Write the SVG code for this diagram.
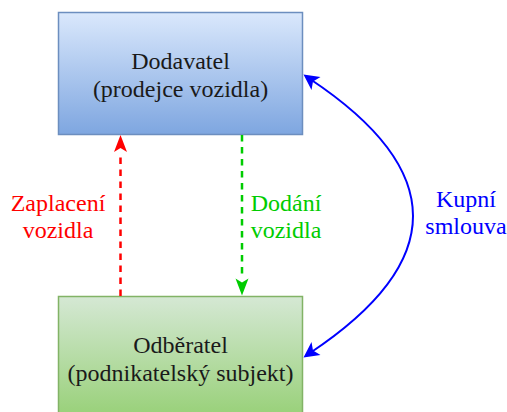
<svg xmlns="http://www.w3.org/2000/svg" width="507" height="412" viewBox="0 0 507 412">
<style>
text{font-family:'Liberation Serif','Times New Roman',serif;font-size:24px;text-anchor:middle}
.node{fill:#1a1a1a}
</style>
<defs>
<linearGradient id="gb" x1="0" y1="0" x2="0" y2="1"><stop offset="0" stop-color="#dae8fc"/><stop offset="1" stop-color="#7ea6e0"/></linearGradient>
<linearGradient id="gg" x1="0" y1="0" x2="0" y2="1"><stop offset="0" stop-color="#d5e8d4"/><stop offset="1" stop-color="#97d077"/></linearGradient>
</defs>
<g id="dodavatel">
<rect x="58.5" y="12.5" width="244" height="122" fill="url(#gb)" stroke="#6c8ebf" stroke-width="1.5"/>
<text class="node" x="180.5" y="69">Dodavatel</text>
<text class="node" x="180.5" y="97">(prodejce vozidla)</text>
</g>
<g id="odberatel">
<rect x="58.5" y="296.5" width="244" height="122" fill="url(#gg)" stroke="#82b366" stroke-width="1.5"/>
<text class="node" x="180.5" y="353">Odběratel</text>
<text class="node" x="180.5" y="381">(podnikatelský subjekt)</text>
</g>
<g id="connectors">
<path d="M120.5,296 L120.5,152" stroke="#ff0000" stroke-width="2.5" stroke-dasharray="6.5 5.5" fill="none"/>
<path d="M120.5,135 l6.5,17 l-6.5,-4 l-6.5,4 Z" fill="#ff0000"/>
<path d="M242,135 L242,279" stroke="#00cc00" stroke-width="2.5" stroke-dasharray="6.5 5.5" fill="none"/>
<path d="M242,295.5 l6.5,-17 l-6.5,4 l-6.5,-4 Z" fill="#00cc00"/>
<path d="M310,79 Q516,216 310,353" stroke="#0000ff" stroke-width="2" fill="none"/>
<path d="M303.5,74.5 L320.5,77 L313,81.5 L311.5,90 Z" fill="#0000ff"/>
<path d="M303.5,357.5 L311.5,342 L313,350.5 L320.5,355 Z" fill="#0000ff"/>
</g>
<g id="labels">
<text x="58" y="211" fill="#ff0000">Zaplacení</text>
<text x="58" y="238" fill="#ff0000">vozidla</text>
<text x="286" y="211" fill="#00cc00">Dodání</text>
<text x="286" y="238" fill="#00cc00">vozidla</text>
<text x="466" y="207" fill="#0000ff">Kupní</text>
<text x="466" y="234" fill="#0000ff">smlouva</text>
</g>
</svg>
